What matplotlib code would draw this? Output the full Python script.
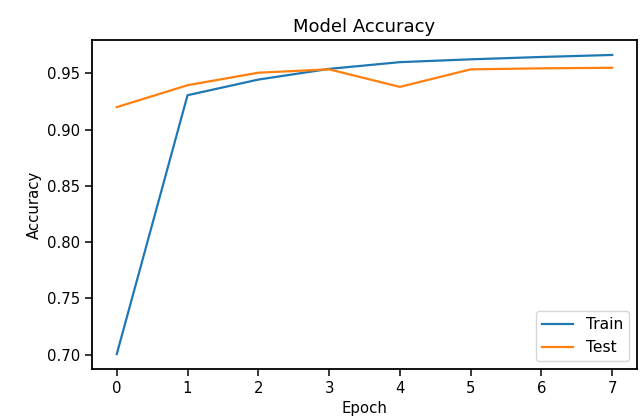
import matplotlib
matplotlib.use("Agg")
import matplotlib.pyplot as plt

epochs = [0, 1, 2, 3, 4, 5, 6, 7]
train_acc = [0.7005, 0.9306, 0.9445, 0.9540, 0.9600, 0.9625, 0.9646, 0.9664]
test_acc = [0.9200, 0.9395, 0.9506, 0.9536, 0.9380, 0.9536, 0.9545, 0.9550]
series_names = ["Train", "Test"]

fs = 10.7
fig = plt.figure(figsize=(6.42, 4.17), dpi=100)
ax = fig.add_axes([0.1433, 0.1151, 0.8489, 0.7890])
ax.plot(epochs, train_acc, color="#1f77b4", lw=1.6, label=series_names[0])
ax.plot(epochs, test_acc, color="#ff7f0e", lw=1.6, label=series_names[1])
ax.set_title("Model Accuracy", fontsize=13)
ax.set_xlabel("Epoch", fontsize=fs)
ax.set_ylabel("Accuracy", fontsize=fs)
ax.tick_params(labelsize=fs, width=1.1, length=5)
for s in ax.spines.values():
    s.set_linewidth(1.3)
ax.legend(loc="lower right", fontsize=fs + 0.5)
fig.savefig("out.png", dpi=100)
